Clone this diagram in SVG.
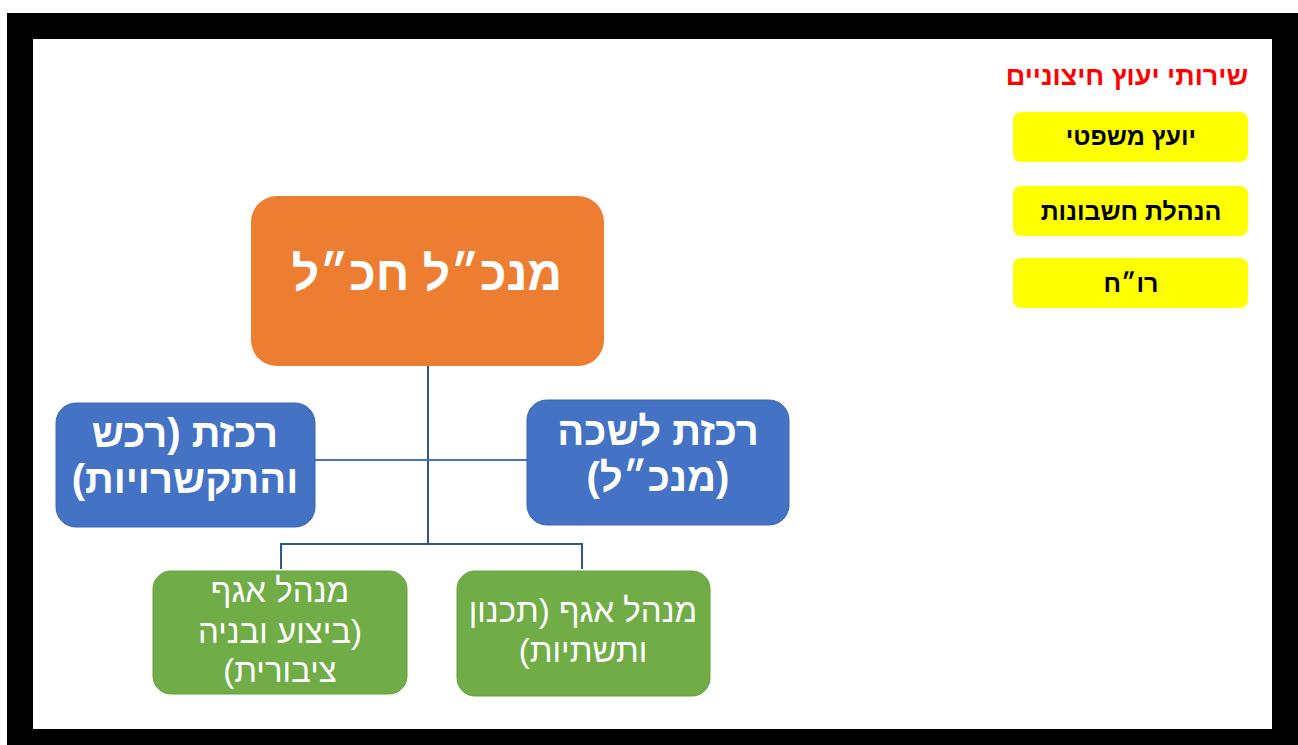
<svg xmlns="http://www.w3.org/2000/svg" width="1298" height="745" viewBox="0 0 1298 745">
<style>
.t{font-family:"Liberation Sans","DejaVu Sans",sans-serif;direction:rtl;text-anchor:middle}
.w{fill:#FFFFFF;font-weight:bold}
.g{fill:#FFFFFF;font-size:33px}
.k{fill:#000000;font-weight:bold;font-size:25px}
.r{fill:#FF0000;font-weight:bold;font-size:27px}
.blue{fill:#4472C4;stroke:#3B64AE;stroke-width:1}
.green{fill:#70AD47;stroke:#65A03F;stroke-width:1}
.yel{fill:#FFFF00}
.c1{stroke:#2F5597;stroke-width:2;fill:none}
.c2{stroke:#4472C4;stroke-width:2;fill:none}
</style>
<rect x="0" y="0" width="1298" height="745" fill="#FFFFFF"/>
<rect x="7" y="13" width="1291" height="732" fill="#000000"/>
<rect x="33" y="39" width="1239" height="690" fill="#FFFFFF"/>

<g id="connectors">
<line class="c1" x1="428" y1="366" x2="428" y2="544"/>
<line class="c2" x1="315" y1="460" x2="527" y2="460"/>
<polyline class="c1" points="281,569 281,544 582,544 582,569"/>
</g>

<g id="node-ceo">
<rect x="251" y="196" width="353" height="170" rx="26" fill="#ED7D31"/>
<text class="t w" x="427" y="290" font-size="48">מנכ״ל חכ״ל</text>
</g>

<g id="node-procurement">
<rect class="blue" x="56" y="403" width="259" height="124" rx="20"/>
<text class="t w" x="185" y="447" font-size="40">רכזת (רכש</text>
<text class="t w" x="185" y="493" font-size="40">והתקשרויות)</text>
</g>

<g id="node-office">
<rect class="blue" x="527" y="400" width="262" height="125" rx="20"/>
<text class="t w" x="658" y="445" font-size="40">רכזת לשכה</text>
<text class="t w" x="658" y="491" font-size="40">(מנכ״ל)</text>
</g>

<g id="node-execution">
<rect class="green" x="153" y="571" width="254" height="123" rx="18"/>
<text class="t g" x="280" y="602">מנהל אגף</text>
<text class="t g" x="280" y="643">(ביצוע ובניה</text>
<text class="t g" x="280" y="682">ציבורית)</text>
</g>

<g id="node-planning">
<rect class="green" x="457" y="571" width="253" height="125" rx="18"/>
<text class="t g" x="583" y="622">מנהל אגף (תכנון</text>
<text class="t g" x="583" y="662">ותשתיות)</text>
</g>

<g id="external-title">
<text class="t r" x="1127" y="85">שירותי יעוץ חיצוניים</text>
</g>

<g id="node-legal">
<rect class="yel" x="1013" y="112" width="235" height="50" rx="8"/>
<text class="t k" x="1131" y="145">יועץ משפטי</text>
</g>

<g id="node-accounting">
<rect class="yel" x="1013" y="186" width="235" height="50" rx="8"/>
<text class="t k" x="1131" y="220">הנהלת חשבונות</text>
</g>

<g id="node-cpa">
<rect class="yel" x="1013" y="258" width="235" height="50" rx="8"/>
<text class="t k" x="1131" y="292">רו״ח</text>
</g>
</svg>
